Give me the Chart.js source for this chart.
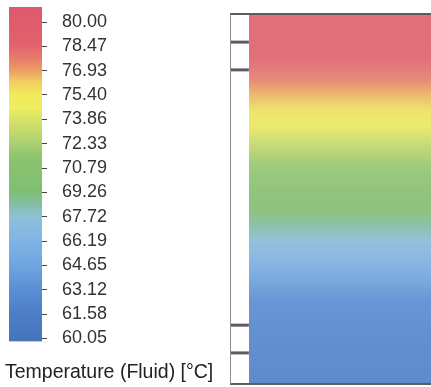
<!DOCTYPE html>
<html>
<head>
<meta charset="utf-8">
<script src="https://cdn.jsdelivr.net/npm/chart.js@4.4.1/dist/chart.umd.min.js"></script>
<style>
  html, body { margin: 0; padding: 0; background: #fff; }
  #wrap { position: relative; width: 431px; height: 387px; overflow: hidden; }
  canvas { position: absolute; top: 0; }
  #legendChart { left: 0; }
  #contourChart { left: 229px; }
</style>
</head>
<body>
<div id="wrap">
  <canvas id="legendChart" width="230" height="387"></canvas>
  <canvas id="contourChart" width="202" height="387"></canvas>
</div>
<script>
// legend (colour bar) values
const legendTicks = [80.00, 78.47, 76.93, 75.40, 73.86, 72.33, 70.79, 69.26, 67.72, 66.19, 64.65, 63.12, 61.58, 60.05];
const legendRange = [59.86, 80.95];

// colour map: temperature -> colour
const cmapTemps = [59.8, 61.6, 63.1, 64.7, 66.2, 67.7, 68.5, 69.3, 71.5, 72.3, 73.9, 74.6, 75.4, 76.2, 76.9, 77.6, 78.5, 81.0];
const cmapColors = ["#4774bb", "#4d7ec6", "#5a8ed4", "#6fa6e0", "#80b4e6", "#8ec0d8", "#82bfa6", "#7fbe72", "#8cc46e", "#a8d070", "#d8e468", "#eeee60", "#f2ea5a", "#f0d060", "#eda062", "#e8806a", "#e2626e", "#df586c"];

// temperature profile of the fluid, height in % from bottom
const profileHeights = [0, 11.9, 22.7, 28.1, 33.0, 38.9, 43.0, 47.0, 52.4, 59.2, 64.6, 70.0, 74.1, 78.1, 82.2, 87.6, 100];
const profileTemps = [61.8, 62.2, 63.0, 64.5, 66.0, 67.4, 68.6, 69.8, 70.6, 71.8, 73.2, 74.8, 75.6, 76.6, 77.6, 78.6, 79.3];

// wall strip and marks on it (height in %)
const wallEdge = 9.4;
const wallMarks = [8.4, 15.9, 84.9, 92.4];
// faint probe line in the fluid
const probeX = 55.7;
const probeHeights = [49.2, 60.0];

const fontFamily = "'Liberation Sans', Arial, sans-serif";

function hexToRgb(h) {
  const n = parseInt(h.slice(1), 16);
  return [(n >> 16) & 255, (n >> 8) & 255, n & 255];
}

function colorFor(t, fade) {
  let i = 0;
  while (i < cmapTemps.length - 2 && t > cmapTemps[i + 1]) i++;
  const t0 = cmapTemps[i], t1 = cmapTemps[i + 1];
  let f = (t - t0) / (t1 - t0);
  f = Math.max(0, Math.min(1, f));
  const a = hexToRgb(cmapColors[i]), b = hexToRgb(cmapColors[i + 1]);
  const c = a.map((v, k) => v + (b[k] - v) * f).map(v => Math.round(v + (220 - v) * (fade || 0)));
  return "rgb(" + c.join(",") + ")";
}

function barGradient(chart) {
  const y = chart.scales.y;
  if (!chart.chartArea || !y) return cmapColors[0];
  const y0 = y.getPixelForValue(cmapTemps[0]);
  const y1 = y.getPixelForValue(cmapTemps[cmapTemps.length - 1]);
  const g = chart.ctx.createLinearGradient(0, y0, 0, y1);
  cmapTemps.forEach((t, i) => {
    g.addColorStop((y.getPixelForValue(t) - y0) / (y1 - y0), cmapColors[i]);
  });
  return g;
}

function contourGradient(chart) {
  const y = chart.scales.y;
  if (!chart.chartArea || !y) return cmapColors[0];
  const y0 = y.getPixelForValue(0);
  const y1 = y.getPixelForValue(100);
  const g = chart.ctx.createLinearGradient(0, y0, 0, y1);
  profileHeights.forEach((h, i) => {
    g.addColorStop(h / 100, colorFor(profileTemps[i], 0.12));
  });
  return g;
}

new Chart(document.getElementById("legendChart"), {
  type: "bar",
  data: {
    labels: ["T"],
    datasets: [
      {
        data: [legendRange],
        backgroundColor: (ctx) => barGradient(ctx.chart),
        borderWidth: 0,
        barPercentage: 1,
        categoryPercentage: 1,
        yAxisID: "y",
      },
    ],
  },
  options: {
    responsive: false,
    animation: false,
    layout: { padding: { left: 5, top: 7, right: 0, bottom: 2.6 } },
    plugins: {
      legend: { display: false },
      tooltip: { enabled: false },
      title: {
        display: true,
        position: "bottom",
        align: "start",
        text: "Temperature (Fluid) [°C]",
        color: "#222",
        font: { family: fontFamily, size: 19.5, weight: "normal" },
        padding: { top: 19.6, bottom: 0 },
      },
    },
    scales: {
      x: { display: false },
      yl: {
        position: "left",
        grid: { display: false },
        ticks: { display: false },
        border: { display: false },
        afterFit(s) { s.width = 4; },
      },
      y: {
        position: "right",
        min: legendRange[0],
        max: legendRange[1],
        afterBuildTicks(s) { s.ticks = legendTicks.map((v) => ({ value: v })); },
        afterFit(s) {
          s.width = 188;
          s.paddingTop = 0;
          s.paddingBottom = 0;
        },
        grid: { drawOnChartArea: false, tickLength: 5, color: "#444" },
        border: { display: false },
        ticks: {
          autoSkip: false,
          padding: 15,
          color: "#333",
          font: { family: fontFamily, size: 18 },
          callback: (v) => Number(v).toFixed(2),
        },
      },
    },
  },
});

const framePlugin = {
  id: "frame",
  afterDraw(chart) {
    const { left, top, right, bottom } = chart.chartArea;
    const ctx = chart.ctx;
    ctx.save();
    ctx.strokeStyle = "#5c5c5c";
    ctx.lineWidth = 2;
    ctx.beginPath();
    ctx.moveTo(left, top);
    ctx.lineTo(right, top);
    ctx.moveTo(left, bottom);
    ctx.lineTo(right, bottom);
    ctx.stroke();
    ctx.strokeStyle = "#8c8c8c";
    ctx.lineWidth = 1;
    ctx.beginPath();
    ctx.moveTo(left + 0.5, top);
    ctx.lineTo(left + 0.5, bottom);
    ctx.stroke();
    ctx.restore();
  },
};

new Chart(document.getElementById("contourChart"), {
  type: "line",
  data: {
    datasets: [
      {
        data: [{ x: wallEdge, y: 100 }, { x: 100, y: 100 }],
        fill: "origin",
        backgroundColor: (ctx) => contourGradient(ctx.chart),
        borderWidth: 0,
        pointRadius: 0,
      },
      ...wallMarks.map((h) => ({
        data: [{ x: 0, y: h }, { x: wallEdge, y: h }],
        borderColor: "rgba(70,60,75,0.85)",
        borderWidth: 3,
        pointRadius: 0,
        fill: false,
      })),
      {
        data: probeHeights.map((h) => ({ x: probeX, y: h })),
        borderColor: "rgba(80,90,80,0.45)",
        borderWidth: 1.5,
        borderDash: [3, 4],
        pointRadius: 0,
        fill: false,
      },
    ],
  },
  options: {
    responsive: false,
    animation: false,
    layout: { padding: { left: 1, top: 14, right: 0, bottom: 3 } },
    plugins: { legend: { display: false }, tooltip: { enabled: false } },
    scales: {
      x: { type: "linear", min: 0, max: 100, display: false },
      y: { type: "linear", min: 0, max: 100, display: false },
    },
  },
  plugins: [framePlugin],
});
</script>
</body>
</html>
